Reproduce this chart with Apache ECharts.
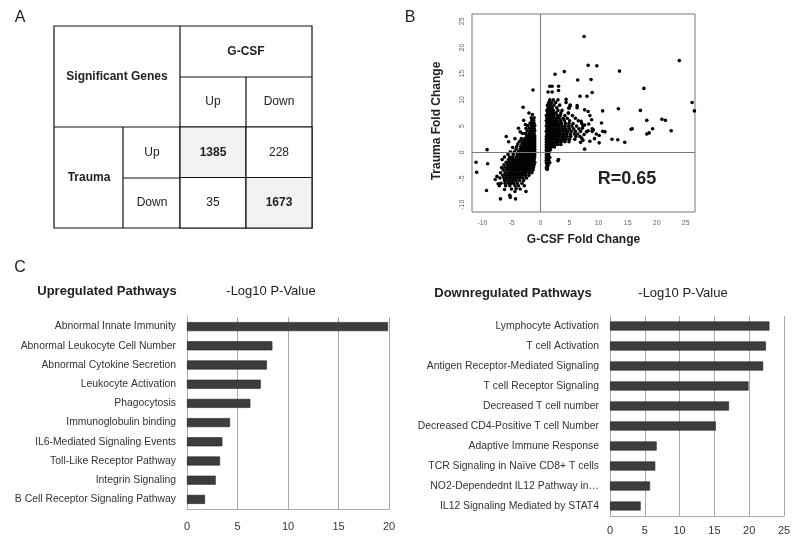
<!DOCTYPE html>
<html><head><meta charset="utf-8">
<script src="https://cdn.jsdelivr.net/npm/echarts@6/dist/echarts.min.js"></script>
<style>html,body{margin:0;padding:0;background:#fff}#c{width:800px;height:542px}</style>
</head><body><div id="c"></div>
<script>
const FONT = "'Liberation Sans', Arial, sans-serif";

// ---------- Panel A : table ----------
const tableCols = ['Up', 'Down'];
const tableRows = ['Up', 'Down'];
const tableValues = [[1385, 228], [35, 1673]];

// ---------- Panel B : scatter ----------
const scatterTicks = [-10, -5, 0, 5, 10, 15, 20, 25];
const negRows = [
  [6.6, [-1.1, -1.6]],
  [6.1, [-1.2, -1.5, -2.9]],
  [5.6, [-1.1, -1.4, -1.8]],
  [5.1, [-1.0, -1.3, -1.6, -2.2]],
  [4.6, [-1.1, -1.4, -1.9, -2.5, -3.8]],
  [4.1, [-1.0, -1.2, -1.5, -1.8, -2.3]],
  [3.6, [-1.1, -1.3, -1.7, -2.0, -2.6, -3.1]],
  [3.1, [-1.0, -1.2, -1.4, -1.7, -2.1, -2.4]],
  [2.6, [-1.0, -1.3, -1.5, -1.8, -2.2, -2.7, -3.3, -4.4]],
  [2.1, [-1.0, -1.2, -1.4, -1.6, -1.9, -2.3, -2.6, -3.0, -3.6]],
  [1.6, [-1.0, -1.2, -1.5, -1.7, -2.0, -2.4, -2.8, -3.2, -3.9]],
  [1.1, [-1.0, -1.3, -1.5, -1.8, -2.1, -2.5, -2.9, -3.4, -4.1]],
  [0.6, [-1.0, -1.2, -1.4, -1.7, -2.0, -2.3, -2.7, -3.1, -3.5, -4.2]],
  [0.1, [-1.0, -1.3, -1.5, -1.8, -2.2, -2.6, -3.0, -3.3, -3.8, -4.5, -5.2]],
  [-0.4, [-1.0, -1.2, -1.5, -1.9, -2.1, -2.5, -2.8, -3.2, -3.6, -4.0, -4.7, -5.6]],
  [-0.9, [-1.0, -1.3, -1.6, -1.9, -2.3, -2.7, -3.0, -3.4, -3.8, -4.2, -4.8, -5.3, -6.2]],
  [-1.4, [-1.1, -1.4, -1.7, -2.0, -2.4, -2.8, -3.1, -3.5, -3.9, -4.3, -4.6, -5.0, -5.5, -6.6]],
  [-1.9, [-1.0, -1.2, -1.5, -1.8, -2.2, -2.5, -2.9, -3.3, -3.7, -4.1, -4.5, -4.9, -5.4, -5.9]],
  [-2.4, [-1.1, -1.4, -1.8, -2.1, -2.4, -2.8, -3.2, -3.6, -4.0, -4.4, -4.8, -5.2, -5.7, -6.3]],
  [-2.9, [-1.2, -1.6, -2.0, -2.3, -2.7, -3.0, -3.4, -3.8, -4.2, -4.6, -5.0, -5.5, -6.0, -6.7]],
  [-3.4, [-1.3, -1.8, -2.2, -2.6, -2.9, -3.3, -3.7, -4.1, -4.5, -4.9, -5.3, -5.8, -6.4]],
  [-3.9, [-1.5, -2.0, -2.5, -2.8, -3.2, -3.6, -4.0, -4.4, -4.8, -5.2, -5.6, -6.1, -6.9]],
  [-4.4, [-2.0, -2.6, -3.1, -3.5, -3.9, -4.3, -4.7, -5.1, -5.5, -6.0, -6.5]],
  [-4.9, [-2.4, -3.0, -3.5, -4.0, -4.4, -4.9, -5.3, -5.8, -6.3, -7.0]],
  [-5.4, [-2.9, -3.6, -4.2, -4.7, -5.2, -5.7, -6.2]],
  [-5.9, [-3.2, -4.0, -4.6, -5.0, -5.5, -6.1, -6.8]],
  [-6.4, [-2.8, -3.8, -4.4, -5.3, -6.0, -7.1]]
];
const negOutliers = [
  [-1.3, 11.9], [-3.0, 8.6], [-5.9, 3.0], [-2.6, 5.3], [-3.5, 3.9], [-9.2, 0.5], [-11.1, -1.9],
  [-11.0, -3.8], [-9.1, -2.2], [-9.3, -7.3], [-6.9, -8.9], [-5.2, -8.6], [-4.3, -8.9], [-5.3, -8.2],
  [-7.3, -6.0], [-3.5, -7.0], [-5.0, -7.0], [-6.2, -7.1], [-2.5, -7.5], [-4.4, -7.5], [-7.5, -4.6],
  [-6.6, -3.0], [-5.5, 2.0], [-4.8, 0.9], [-2.0, 7.5], [-1.4, 7.2], [-4.2, -6.9], [-7.8, -5.2]
];
const posRows = [
  [10.0, [1.6, 2.2, 3.0]],
  [9.5, [1.4, 1.9, 2.6, 4.4]],
  [9.0, [1.2, 1.7, 2.3, 3.3, 5.1]],
  [8.5, [1.3, 1.6, 2.0, 2.8, 4.9, 6.3]],
  [8.0, [1.1, 1.4, 1.8, 2.2, 3.0, 3.7]],
  [7.5, [1.2, 1.5, 1.9, 2.4, 2.7, 3.5, 4.8]],
  [7.0, [1.0, 1.3, 1.6, 2.0, 2.3, 2.9, 3.4, 4.2, 5.5]],
  [6.5, [1.1, 1.4, 1.7, 2.1, 2.5, 2.8, 3.2, 3.9, 4.6, 6.0]],
  [6.0, [1.0, 1.2, 1.5, 1.8, 2.2, 2.6, 3.0, 3.5, 4.1, 5.0, 6.5]],
  [5.5, [1.1, 1.3, 1.6, 1.9, 2.3, 2.7, 3.1, 3.6, 4.3, 4.9, 5.6, 7.1]],
  [5.0, [1.0, 1.2, 1.5, 1.8, 2.1, 2.4, 2.8, 3.2, 3.7, 4.2, 4.8, 5.4, 6.2, 7.3]],
  [4.5, [1.1, 1.3, 1.6, 1.9, 2.2, 2.6, 3.0, 3.4, 3.9, 4.4, 5.0, 5.7, 6.6]],
  [4.0, [1.0, 1.2, 1.5, 1.8, 2.1, 2.5, 2.9, 3.3, 3.8, 4.3, 4.7, 5.3, 6.0, 6.9]],
  [3.5, [1.1, 1.3, 1.6, 1.9, 2.3, 2.7, 3.1, 3.5, 4.0, 4.5, 5.1, 5.8, 6.4]],
  [3.0, [1.0, 1.2, 1.4, 1.7, 2.0, 2.4, 2.8, 3.2, 3.7, 4.1, 4.6, 5.2, 6.1]],
  [2.5, [1.0, 1.2, 1.5, 1.8, 2.1, 2.5, 2.9, 3.4, 3.9, 4.4, 5.0, 5.9]],
  [2.0, [1.0, 1.2, 1.4, 1.7, 2.0, 2.3, 2.7, 3.1, 3.6, 4.2, 4.9]],
  [1.5, [1.0, 1.2, 1.5, 1.8, 2.2, 2.6, 3.0, 3.5]],
  [1.0, [1.0, 1.1, 1.3, 1.6, 1.9, 2.4]],
  [0.5, [1.0, 1.2, 1.4, 1.7]],
  [0.0, [1.0, 1.1, 1.3, 1.5]],
  [-0.5, [1.0, 1.2, 1.4]],
  [-1.0, [1.0, 1.1, 1.3, 1.6]],
  [-1.5, [1.0, 1.2, 1.4]],
  [-2.0, [1.0, 1.1, 1.3, 1.6]],
  [-2.5, [1.1, 1.3]],
  [-3.0, [1.0, 1.2]]
];
const posOutliers = [
  [7.5, 22.1], [8.2, 16.6], [9.7, 16.5], [23.9, 17.5], [13.6, 15.5], [2.5, 14.9], [4.1, 15.4],
  [6.4, 13.8], [8.7, 13.9], [17.8, 12.2], [1.6, 12.6], [2.0, 12.6], [3.1, 12.6], [1.3, 11.5],
  [2.0, 11.5], [3.1, 11.8], [8.9, 11.4], [6.8, 10.7], [8.0, 10.7], [4.4, 10.1], [13.4, 8.3],
  [17.2, 8.0], [10.7, 7.9], [26.1, 9.5], [26.5, 7.9], [18.3, 6.1], [20.9, 6.3], [21.5, 6.1],
  [19.3, 4.5], [18.3, 3.5], [18.7, 3.7], [22.5, 4.1], [15.6, 4.4], [15.8, 4.5], [12.3, 2.5],
  [13.3, 2.4], [14.5, 1.9], [10.1, 1.8], [10.5, 5.6], [10.7, 4.0], [10.1, 3.2], [11.1, 3.9],
  [7.6, 0.6], [9.1, 4.3], [8.9, 4.5], [7.6, 8.1], [8.2, 7.8], [8.5, 7.0], [8.8, 6.2], [8.3, 5.4],
  [4.9, 8.4], [5.1, 8.9], [4.8, 7.5], [6.3, 8.9], [3.0, -1.6], [3.1, -1.4], [1.15, -3.3],
  [6.8, 3.0], [7.1, 2.7], [7.5, 3.4], [7.9, 3.9], [8.2, 4.1], [8.9, 4.0], [7.3, 2.3], [6.9, 1.9],
  [8.5, 2.1], [9.3, 2.6], [9.6, 3.5], [7.0, 5.9], [7.6, 5.2], [7.2, 4.6]
];

// ---------- Panel C : bars ----------
const upCategories = ['Abnormal Innate Immunity', 'Abnormal Leukocyte Cell Number', 'Abnormal Cytokine Secretion',
  'Leukocyte Activation', 'Phagocytosis', 'Immunoglobulin binding', 'IL6-Mediated Signaling Events',
  'Toll-Like Receptor Pathway', 'Integrin Signaling', 'B Cell Receptor Signaling Pathway'];
const upValues = [19.9, 8.45, 7.9, 7.3, 6.27, 4.26, 3.5, 3.27, 2.84, 1.78];
const downCategories = ['Lymphocyte Activation', 'T cell Activation', 'Antigen Receptor-Mediated Signaling',
  'T cell Receptor Signaling', 'Decreased T cell number', 'Decreased CD4-Positive T cell Number',
  'Adaptive Immune Response', 'TCR Signaling in Naïve CD8+ T cells', 'NO2-Dependednt IL12 Pathway in…',
  'IL12 Signaling Mediated by STAT4'];
const downValues = [22.9, 22.4, 22.0, 19.9, 17.1, 15.2, 6.7, 6.5, 5.75, 4.4];

// ---------- build ----------
function expandRows(rows) {
  const out = [];
  rows.forEach(r => r[1].forEach(x => out.push([x, r[0]])));
  return out;
}
const scatterData = expandRows(negRows).concat(negOutliers, expandRows(posRows), posOutliers);

const tableData = [];
tableValues.forEach((row, r) => row.forEach((v, c) => tableData.push([c, r, v])));

const chart = echarts.init(document.getElementById('c'), null, {renderer: 'canvas'});
const ink = '#222';
const txt = (t, x, y, size, bold, extra) => Object.assign({
  type: 'text', x: x, y: y,
  style: {text: t, fill: ink, font: (bold ? 'bold ' : '') + size + 'px ' + FONT, align: 'center', verticalAlign: 'middle'}
}, extra || {});
const ln = (x1, y1, x2, y2) => ({type: 'line', shape: {x1, y1, x2, y2}, style: {stroke: '#111', lineWidth: 1.2}});

const barAxisLabel = {color: '#333', fontSize: 11, fontFamily: FONT};
const catAxisLabel = {color: '#333', fontSize: 10.4, fontFamily: FONT, margin: 11};

chart.setOption({
  animation: false,
  textStyle: {fontFamily: FONT},
  grid: [
    {left: 472, top: 14, width: 223, height: 198, show: true, borderColor: '#777', borderWidth: 1},
    {left: 187, top: 317, width: 202, height: 192},
    {left: 610, top: 316, width: 174, height: 200},
    {left: 180, top: 127, width: 132, height: 101}
  ],
  xAxis: [
    {gridIndex: 0, type: 'value', min: -11.8, max: 26.6,
      axisLine: {show: false}, axisTick: {show: false}, splitLine: {show: false},
      axisLabel: {customValues: scatterTicks, fontSize: 7, color: '#666', margin: 8},
      name: 'G-CSF Fold Change', nameLocation: 'middle', nameGap: 22,
      nameTextStyle: {fontWeight: 'bold', fontSize: 12, color: ink}},
    {gridIndex: 1, type: 'value', min: 0, max: 20, interval: 5,
      axisLine: {show: true, lineStyle: {color: '#aaa'}}, axisTick: {show: false},
      splitLine: {show: true, lineStyle: {color: '#aaa'}},
      axisLabel: Object.assign({margin: 12}, barAxisLabel)},
    {gridIndex: 2, type: 'value', min: 0, max: 25, interval: 5,
      axisLine: {show: true, lineStyle: {color: '#aaa'}}, axisTick: {show: false},
      splitLine: {show: true, lineStyle: {color: '#aaa'}},
      axisLabel: Object.assign({margin: 9}, barAxisLabel)},
    {gridIndex: 3, type: 'category', data: tableCols, show: false}
  ],
  yAxis: [
    {gridIndex: 0, type: 'value', min: -11.4, max: 26.4,
      axisLine: {show: false}, axisTick: {show: false}, splitLine: {show: false},
      axisLabel: {customValues: scatterTicks, fontSize: 7, color: '#666', rotate: 90, margin: 6},
      name: 'Trauma Fold Change', nameLocation: 'middle', nameGap: 29,
      nameTextStyle: {fontWeight: 'bold', fontSize: 12, color: ink, padding: [0, 16, 0, 0]}},
    {gridIndex: 1, type: 'category', data: upCategories, inverse: true,
      axisLine: {show: true, lineStyle: {color: '#aaa'}}, axisTick: {show: false},
      axisLabel: catAxisLabel},
    {gridIndex: 2, type: 'category', data: downCategories, inverse: true,
      axisLine: {show: true, lineStyle: {color: '#aaa'}}, axisTick: {show: false},
      axisLabel: catAxisLabel},
    {gridIndex: 3, type: 'category', data: tableRows, inverse: true, show: false}
  ],
  series: [
    {type: 'scatter', xAxisIndex: 0, yAxisIndex: 0, data: scatterData, symbolSize: 3.6,
      itemStyle: {color: '#000', opacity: 1}, silent: true, large: false,
      markLine: {silent: true, symbol: 'none', label: {show: false},
        lineStyle: {color: '#777', width: 1, type: 'solid'},
        data: [{xAxis: 0}, {yAxis: 0}]}},
    {type: 'bar', xAxisIndex: 1, yAxisIndex: 1, data: upValues, barWidth: 9,
      itemStyle: {color: '#3d3d3d', borderColor: '#1e1e1e', borderWidth: 0.6}},
    {type: 'bar', xAxisIndex: 2, yAxisIndex: 2, data: downValues, barWidth: 9,
      itemStyle: {color: '#3d3d3d', borderColor: '#1e1e1e', borderWidth: 0.6}},
    {type: 'custom', xAxisIndex: 3, yAxisIndex: 3, data: tableData, silent: true,
      renderItem: function (params, api) {
        const c = api.value(0), r = api.value(1), v = api.value(2);
        const p = api.coord([c, r]);
        const s = api.size([1, 1]);
        const diag = c === r;
        return {type: 'group', children: [
          {type: 'rect', shape: {x: p[0] - s[0] / 2, y: p[1] - s[1] / 2, width: s[0], height: s[1]},
            style: {fill: diag ? '#f2f2f2' : '#fff', stroke: '#111', lineWidth: 1.2}},
          {type: 'text', style: {text: String(v), x: p[0], y: p[1], align: 'center', verticalAlign: 'middle',
            font: (diag ? 'bold ' : '') + '12px ' + FONT, fill: ink}}
        ]};
      }}
  ],
  graphic: [
    // table frame
    {type: 'rect', shape: {x: 54, y: 26, width: 258, height: 202}, style: {fill: 'none', stroke: '#111', lineWidth: 1.2}},
    ln(180, 26, 180, 228), ln(180, 77, 312, 77), ln(54, 127, 312, 127), ln(123, 127, 123, 228),
    ln(123, 178, 312, 178), ln(246, 77, 246, 228),
    txt('Significant Genes', 117, 77, 12, true),
    txt('G-CSF', 246, 52, 12, true),
    txt(tableCols[0], 213, 102, 12, false), txt(tableCols[1], 279, 102, 12, false),
    txt('Trauma', 89, 178, 12, true),
    txt(tableRows[0], 152, 153, 12, false), txt(tableRows[1], 152, 203, 12, false),
    // panel letters
    txt('A', 20, 18, 16, false), txt('B', 410, 18, 16, false), txt('C', 20, 268, 16, false),
    // R value
    txt('R=0.65', 627, 179, 18, true),
    // bar titles
    txt('Upregulated Pathways', 107, 291, 13, true),
    txt('-Log10 P-Value', 271, 291, 13, false),
    txt('Downregulated Pathways', 513, 293, 13, true),
    txt('-Log10 P-Value', 683, 293, 13, false)
  ]
});
</script>
</body></html>
